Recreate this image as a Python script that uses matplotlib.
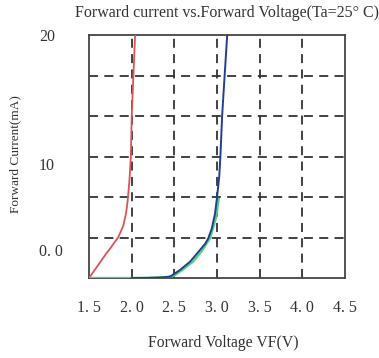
import numpy as np
import matplotlib.pyplot as plt

# forward voltage (V) / forward current (mA) readings per colour
red_vf = [1.50, 1.60, 1.65, 1.70, 1.75, 1.80, 1.84, 1.87, 1.90, 1.93, 1.945, 1.957, 1.975, 1.99, 2.00, 2.02, 2.04]
red_if = [0.0, 1.0, 1.5, 2.0, 2.45, 2.95, 3.33, 3.8, 4.3, 5.2, 5.9, 6.67, 8.2, 10.0, 13.3, 16.7, 20.0]

green_vf = [1.50, 2.00, 2.20, 2.40, 2.50, 2.60, 2.72, 2.83, 2.92, 2.99, 3.02]
green_if = [0.0, 0.0, 0.01, 0.05, 0.2, 0.7, 1.35, 2.3, 3.3, 5.0, 6.5]

blue_vf = [2.00, 2.20, 2.35, 2.45, 2.566, 2.684, 2.80, 2.86, 2.898, 2.94, 2.977, 3.00, 3.027, 3.04, 3.06, 3.09, 3.12]
blue_if = [0.0, 0.01, 0.05, 0.11, 0.66, 1.34, 2.3, 2.8, 3.27, 4.1, 5.3, 6.6, 8.4, 10.0, 13.3, 16.7, 20.0]

x_grid = [2.0, 2.5, 3.0, 3.5, 4.0]
y_grid = [20 / 6 * k for k in range(1, 6)]
x_ticks = [1.5, 2.0, 2.5, 3.0, 3.5, 4.0, 4.5]
x_labels = ['1. 5', '2. 0', '2. 5', '3. 0', '3. 5', '4. 0', '4. 5']
y_ticks = [2.3, 9.4, 20]
y_labels = ['0. 0', '10', '20']

plt.rcParams['font.family'] = ['Liberation Serif', 'DejaVu Serif']
txt_color = '#333333'

fig = plt.figure(figsize=(3.79, 3.58), dpi=100)
ax = fig.add_axes([0.235, 0.2235, 0.675, 0.6785])

ax.vlines(x_grid, 0, 20, colors='#333333', linestyles=(0, (5, 3.5)), linewidth=1.3, zorder=1)
ax.hlines(y_grid, 1.5, 4.5, colors='#333333', linestyles=(0, (5, 3.5)), linewidth=1.3, zorder=1)

ax.plot(red_vf, red_if, color='#d95555', linewidth=1.3, zorder=3)
ax.plot(green_vf, green_if, color='#55d080', linewidth=1.7, zorder=3)
ax.plot(blue_vf, blue_if, color='#1f3f8f', linewidth=1.4, zorder=4)

ax.set_xlim(1.5, 4.5)
ax.set_ylim(0, 20)
ax.set_xticks(x_ticks)
ax.set_xticklabels(x_labels)
ax.set_yticks(y_ticks)
ax.set_yticklabels(y_labels, ha='left')
ax.tick_params(length=0, labelsize=11.5, colors=txt_color)
ax.tick_params(axis='x', pad=16)
ax.tick_params(axis='y', pad=36)
for s in ax.spines.values():
    s.set_color('#444444')
    s.set_linewidth(1.3)

fig.text(0.588, 0.042, 'Forward Voltage VF(V)', ha='center', va='center',
         fontsize=11.3, color=txt_color)
fig.text(0.04, 0.57, 'Forward Current(mA)', ha='center', va='center', rotation=90,
         fontsize=9.5, color=txt_color)
fig.text(0.6, 0.965, 'Forward current vs.Forward Voltage(Ta=25° C)', ha='center', va='center',
         fontsize=11.5, color=txt_color)

fig.savefig('out.png', dpi=100)
